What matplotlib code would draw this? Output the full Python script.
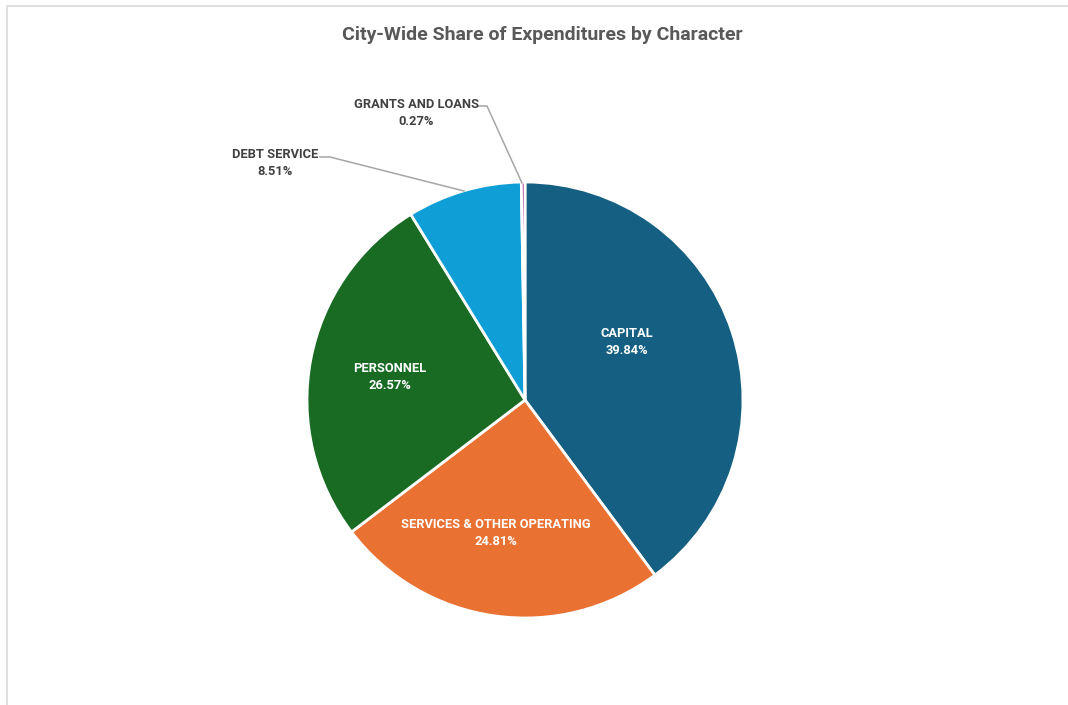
import matplotlib.pyplot as plt
from matplotlib.lines import Line2D
from matplotlib.patches import Rectangle

plt.rcParams["font.family"] = ["Roboto", "DejaVu Sans"]

categories = ["CAPITAL", "SERVICES & OTHER OPERATING", "PERSONNEL", "DEBT SERVICE", "GRANTS AND LOANS"]
shares = [39.84, 24.81, 26.57, 8.51, 0.27]
colors = ["#156082", "#E97132", "#196B24", "#0F9ED5", "#A02B93"]

W, H = 1068, 705
fig = plt.figure(figsize=(W / 100, H / 100), dpi=100)
ax = fig.add_axes([0, 0, 1, 1])

cx, cy, r = 525, H - 400, 218
wedges, _ = ax.pie(shares, colors=colors, startangle=90, counterclock=False,
                   radius=r, center=(cx, cy), frame=True,
                   wedgeprops=dict(edgecolor="white", linewidth=2))
ax.set_xlim(0, W)
ax.set_ylim(0, H)
ax.axis("off")

# label spots (pixel coords from the top-left) and whether they sit inside
label_pos = [(627, 342), (496, 533), (390, 377), (275, 163), (416, 113)]
inside = [True, True, True, False, False]
for name, val, (lx, ly), ins in zip(categories, shares, label_pos, inside):
    col = "white" if ins else "#404040"
    ax.text(lx, H - ly, f"{name}\n{val:.2f}%", ha="center", va="center",
            fontsize=9.3, fontweight="bold", color=col, linespacing=1.4)

# leader lines for the small slices
leaders = [
    [(320, 157), (330, 157), (464, 191)],
    [(478, 106), (487, 106), (522, 183)],
]
for pts in leaders:
    xs = [p[0] for p in pts]
    ys = [H - p[1] for p in pts]
    ax.add_line(Line2D(xs, ys, color="#A6A6A6", linewidth=1.1))

ax.text(W / 2 + 8, H - 35, "City-Wide Share of Expenditures by Character",
        ha="center", va="center", fontsize=14, fontweight="bold", color="#595959")

# chart area border
ax.add_patch(Rectangle((7, -10), W + 20, H - 6 + 10, fill=False,
                       edgecolor="#D9D9D9", linewidth=1.2))

fig.savefig("out.png", dpi=100)
